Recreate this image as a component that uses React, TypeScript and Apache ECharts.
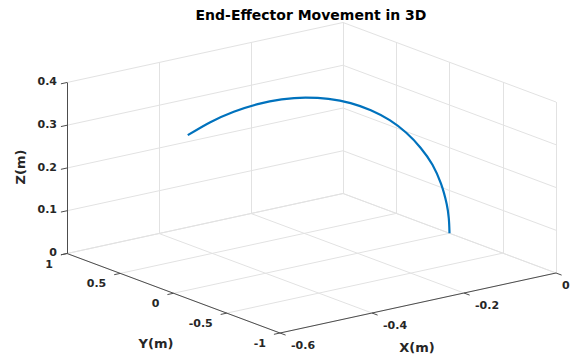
import React, { useEffect, useRef } from "react";
import * as echarts from "echarts";

// ---- data ----
const xLimits = [-0.6, 0];
const yLimits = [-1, 1];
const zLimits = [0, 0.4];
const xTicks = [-0.6, -0.4, -0.2, 0];
const yTicks = [-1, -0.5, 0, 0.5, 1];
const zTicks = [0, 0.1, 0.2, 0.3, 0.4];
const xTickLabels = ["-0.6", "-0.4", "-0.2", "0"];
const yTickLabels = ["-1", "-0.5", "0", "0.5", "1"];
const zTickLabels = ["0", "0.1", "0.2", "0.3", "0.4"];

// end-effector path
const pathX = [-0.569, -0.52, -0.469, -0.417, -0.365, -0.313, -0.263, -0.215, -0.171, -0.13, -0.094, -0.063, -0.037, -0.0185, -0.006, -0.0015, 0];
const pathY = [0, 0, 0, 0, 0, 0, 0, 0, 0, 0, 0, 0, 0, 0, 0, 0, 0];
const pathZ = [0.3625, 0.3815, 0.3939, 0.3996, 0.3985, 0.3905, 0.3759, 0.3548, 0.3277, 0.2949, 0.2571, 0.2149, 0.169, 0.1203, 0.0695, 0.0349, 0];

const titleText = "End-Effector Movement in 3D";
const xName = "X(m)";
const yName = "Y(m)";
const zName = "Z(m)";

// ---- view (orthographic projection of the axis box onto the page) ----
const W = 570;
const H = 358;
const ORIGIN = [280, 333];
const EX = [276, -60];
const EY = [-213, -79.5];
const EZ = [0, -171];

function proj(x: number, y: number, z: number): [number, number] {
  const u = (x - xLimits[0]) / (xLimits[1] - xLimits[0]);
  const v = (y - yLimits[0]) / (yLimits[1] - yLimits[0]);
  const w = (z - zLimits[0]) / (zLimits[1] - zLimits[0]);
  return [
    ORIGIN[0] + EX[0] * u + EY[0] * v + EZ[0] * w,
    ORIGIN[1] + EX[1] * u + EY[1] * v + EZ[1] * w,
  ];
}

function seg(a: [number, number, number], b: [number, number, number]) {
  return { coords: [proj(a[0], a[1], a[2]), proj(b[0], b[1], b[2])] };
}

const TEXT = "#262626";
const FONT = "DejaVu Sans";

export default function App() {
  const ref = useRef<HTMLDivElement>(null);
  useEffect(() => {
    document.body.style.margin = "0";
    if (!ref.current) return;
    const chart = echarts.init(ref.current, undefined, { renderer: "svg" });
    const [x0, x1] = xLimits;
    const [y0, y1] = yLimits;
    const [z0, z1] = zLimits;

    const gridSegs: any[] = [];
    // floor z = z0
    xTicks.forEach((x) => gridSegs.push(seg([x, y0, z0], [x, y1, z0])));
    yTicks.forEach((y) => gridSegs.push(seg([x0, y, z0], [x1, y, z0])));
    // back wall y = y1
    xTicks.forEach((x) => gridSegs.push(seg([x, y1, z0], [x, y1, z1])));
    zTicks.forEach((z) => gridSegs.push(seg([x0, y1, z], [x1, y1, z])));
    // side wall x = x1
    yTicks.forEach((y) => gridSegs.push(seg([x1, y, z0], [x1, y, z1])));
    zTicks.forEach((z) => gridSegs.push(seg([x1, y0, z], [x1, y1, z])));

    const axisSegs: any[] = [
      seg([x0, y1, z0], [x0, y1, z1]), // z axis
      seg([x0, y1, z0], [x0, y0, z0]), // y axis
      seg([x0, y0, z0], [x1, y0, z0]), // x axis
    ];
    const tl = 0.022;
    const tickSegs: any[] = [];
    zTicks.forEach((z) => tickSegs.push(seg([x0, y1, z], [x0 - tl * (x1 - x0), y1, z])));
    yTicks.forEach((y) => tickSegs.push(seg([x0, y, z0], [x0 - tl * (x1 - x0), y, z0])));
    xTicks.forEach((x) => tickSegs.push(seg([x, y0, z0], [x, y0 - tl * (y1 - y0) * 1.2, z0])));

    const texts: any[] = [];
    const lab = (t: string, p: [number, number], dx: number, dy: number, align: string, size = 11) =>
      texts.push({
        type: "text",
        x: Math.min(p[0] + dx, align === "left" ? W - 8 : W),
        y: p[1] + dy,
        style: {
          text: t,
          fill: TEXT,
          fontFamily: FONT,
          fontWeight: "bold",
          fontSize: size,
          align,
          verticalAlign: "middle",
        },
      });
    zTicks.forEach((z, i) => lab(zTickLabels[i], proj(x0, y1, z), -10, -1, "right"));
    yTicks.forEach((y, i) => lab(yTickLabels[i], proj(x0, y, z0), -14, 10.5, "right"));
    xTicks.forEach((x, i) => lab(xTickLabels[i], proj(x, y0, z0), 11, 12, "left"));

    texts.push({
      type: "text",
      x: 311,
      y: 15,
      style: { text: titleText, fill: "#000", fontFamily: FONT, fontWeight: "bold", fontSize: 14, align: "center", verticalAlign: "middle" },
    });
    texts.push({
      type: "text",
      x: 417,
      y: 347,
      style: { text: xName, fill: TEXT, fontFamily: FONT, fontWeight: "bold", fontSize: 13, align: "center", verticalAlign: "middle" },
    });
    texts.push({
      type: "text",
      x: 156,
      y: 343,
      style: { text: yName, fill: TEXT, fontFamily: FONT, fontWeight: "bold", fontSize: 13, align: "center", verticalAlign: "middle" },
    });
    texts.push({
      type: "text",
      x: 20,
      y: 167,
      rotation: Math.PI / 2,
      style: { text: zName, fill: TEXT, fontFamily: FONT, fontWeight: "bold", fontSize: 13, align: "center", verticalAlign: "middle" },
    });

    const pathData = pathX.map((x, i) => proj(x, pathY[i], pathZ[i]));

    chart.setOption({
      animation: false,
      backgroundColor: "#fff",
      grid: { left: 0, right: 0, top: 0, bottom: 0 },
      xAxis: { type: "value", min: 0, max: W, show: false },
      yAxis: { type: "value", min: 0, max: H, inverse: true, show: false },
      series: [
        {
          type: "lines",
          coordinateSystem: "cartesian2d",
          data: gridSegs,
          lineStyle: { color: "#e2e2e2", width: 1, opacity: 1 },
          silent: true,
          z: 1,
        },
        {
          type: "lines",
          coordinateSystem: "cartesian2d",
          data: axisSegs.concat(tickSegs),
          lineStyle: { color: "#4d4d4d", width: 1, opacity: 1 },
          silent: true,
          z: 2,
        },
        {
          type: "line",
          data: pathData,
          smooth: 0.3,
          showSymbol: false,
          lineStyle: { color: "#0072BD", width: 2.2 },
          z: 3,
        },
      ],
      graphic: texts,
    });
    return () => chart.dispose();
  }, []);
  return <div ref={ref} style={{ position: "fixed", left: 0, top: 0, width: W, height: H }} />;
}
